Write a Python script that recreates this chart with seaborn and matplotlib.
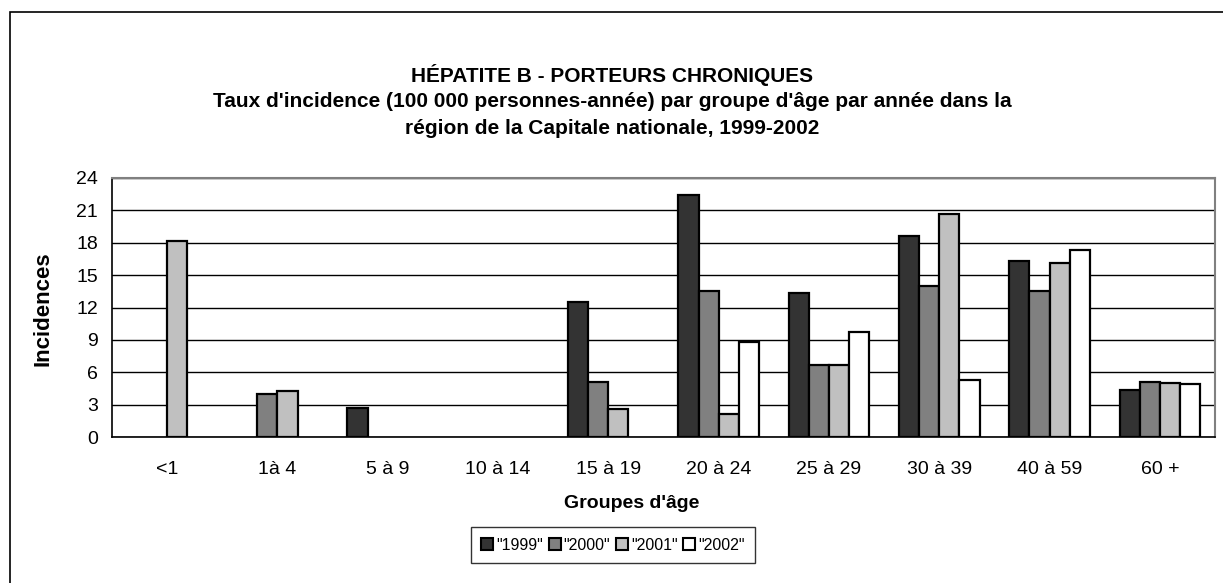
import pandas as pd
import seaborn as sns
from matplotlib import pyplot as plt
from matplotlib.patches import Patch, Rectangle

# Data (NaN = no bar)
groupes = ["<1", "1à 4", "5 à 9", "10 à 14", "15 à 19", "20 à 24",
           "25 à 29", "30 à 39", "40 à 59", "60 +"]
annees = ['"1999"', '"2000"', '"2001"', '"2002"']
taux_1999 = [None, None, 2.7, None, 12.5, 22.4, 13.3, 18.6, 16.3, 4.4]
taux_2000 = [None, 4.0, None, None, 5.1, 13.5, 6.7, 14.0, 13.5, 5.1]
taux_2001 = [18.2, 4.3, None, None, 2.6, 2.1, 6.7, 20.7, 16.1, 5.0]
taux_2002 = [None, None, None, None, None, 8.8, 9.7, 5.3, 17.3, 4.9]
couleurs = ["#333333", "#808080", "#c0c0c0", "#ffffff"]

rows = []
for annee, serie in zip(annees, [taux_1999, taux_2000, taux_2001, taux_2002]):
    for g, v in zip(groupes, serie):
        rows.append({"groupe": g, "annee": annee, "taux": v})
df = pd.DataFrame(rows).dropna()

sns.set_style("white")
plt.rcParams["font.family"] = ["Liberation Sans", "DejaVu Sans"]
plt.rcParams["text.color"] = "black"
plt.rcParams["axes.labelcolor"] = "black"
plt.rcParams["xtick.labelcolor"] = "black"
plt.rcParams["ytick.labelcolor"] = "black"

fig = plt.figure(figsize=(12.23, 5.83), dpi=100)
ax = fig.add_axes([112 / 1223, 1 - 437 / 583, (1215 - 112) / 1223, (437 - 178) / 583])

sns.barplot(data=df, x="groupe", y="taux", hue="annee", order=groupes,
            hue_order=annees, palette=couleurs, saturation=1, width=0.73,
            edgecolor="black", linewidth=1.6, ax=ax, legend=False)

ax.set_xlim(-0.5, len(groupes) - 0.5)
ax.set_ylim(0, 24)
ax.set_yticks(range(0, 25, 3))
ax.yaxis.grid(True, color="black", linewidth=1)
ax.set_axisbelow(True)

for s in ["top", "right"]:
    ax.spines[s].set_color("#808080")
    ax.spines[s].set_linewidth(1.5)
for s in ["left", "bottom"]:
    ax.spines[s].set_color("black")
    ax.spines[s].set_linewidth(1.2)

ax.set_xticks(range(len(groupes)))
ax.set_xticklabels(groupes)
ax.set_xticks([i - 0.5 for i in range(len(groupes) + 1)], minor=True)
ax.tick_params(axis="x", which="major", length=0, pad=17, labelsize=14)
ax.tick_params(axis="x", which="minor", length=6, width=1, color="#808080", direction="out")
ax.tick_params(axis="y", length=6, width=1, color="black", direction="out", labelsize=14, pad=4)

ax.set_xlabel("Groupes d'âge", fontsize=14, fontweight="bold")
ax.xaxis.set_label_coords((632 - 112) / 1103, -(495 - 437) / 259)
ax.set_ylabel("Incidences", fontsize=16, fontweight="bold")
ax.yaxis.set_label_coords(-(112 - 54) / 1103, (437 - 309) / 259)

titres = ["HÉPATITE B - PORTEURS CHRONIQUES",
          "Taux d'incidence (100 000 personnes-année) par groupe d'âge par année dans la",
          "région de la Capitale nationale, 1999-2002"]
for t, y in zip(titres, [75, 102, 129]):
    fig.text(612 / 1223, 1 - y / 583, t, ha="center", va="center",
             fontsize=15, fontweight="bold")

handles = [Patch(facecolor=c, edgecolor="black", linewidth=1.5) for c in couleurs]
leg = fig.legend(handles, annees, loc="center", bbox_to_anchor=(613 / 1223, 1 - 545 / 583),
                 ncol=4, frameon=True, fancybox=False, edgecolor="black",
                 fontsize=11.5, handlelength=0.75, handleheight=0.75,
                 handletextpad=0.2, columnspacing=0.35, borderpad=0.65)
leg.get_frame().set_linewidth(1)

fig.patches.append(Rectangle((9.5 / 1223, -0.05), 1.1, 1.05 - 12 / 583,
                             transform=fig.transFigure, fill=False,
                             edgecolor="black", linewidth=1.2))

fig.savefig("out.png", dpi=100, facecolor="white")
